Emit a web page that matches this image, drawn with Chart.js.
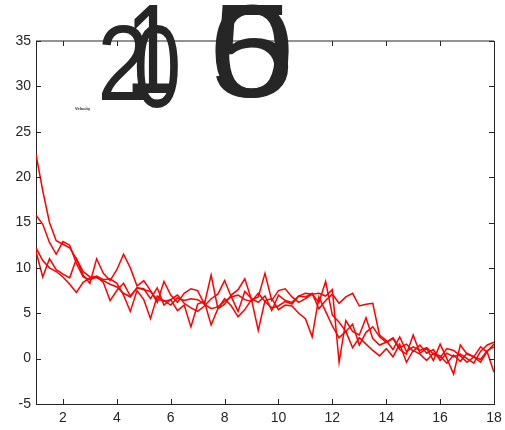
<!DOCTYPE html>
<html>
<head>
<meta charset="utf-8">
<script src="https://cdn.jsdelivr.net/npm/chart.js@4/dist/chart.umd.min.js"></script>
<style>
  body { margin: 0; background: #fff; }
</style>
</head>
<body>
<canvas id="velocityChart" width="505" height="430"></canvas>
<script>
// time axis (one sample every quarter unit)
const timeValues = [
  1, 1.25, 1.5, 1.75, 2, 2.25, 2.5, 2.75,
  3, 3.25, 3.5, 3.75, 4, 4.25, 4.5, 4.75,
  5, 5.25, 5.5, 5.75, 6, 6.25, 6.5, 6.75,
  7, 7.25, 7.5, 7.75, 8, 8.25, 8.5, 8.75,
  9, 9.25, 9.5, 9.75, 10, 10.25, 10.5, 10.75,
  11, 11.25, 11.5, 11.75, 12, 12.25, 12.5, 12.75,
  13, 13.25, 13.5, 13.75, 14, 14.25, 14.5, 14.75,
  15, 15.25, 15.5, 15.75, 16, 16.25, 16.5, 16.75,
  17, 17.25, 17.5, 17.75, 18
];

const runA = [
  22.5, 18.5, 15.0, 13.0, 12.6, 12.2, 11.0, 9.6,
  9.0, 8.9, 8.6, 8.2, 7.9, 7.2, 6.8, 7.8,
  7.6, 7.4, 6.5, 6.4, 5.9, 6.7, 6.4, 6.6,
  6.5, 6.0, 5.5, 5.7, 6.3, 6.8, 7.0, 6.5,
  6.3, 7.2, 6.3, 5.6, 5.8, 6.3, 6.0, 6.9,
  7.2, 7.1, 6.2, 8.5, 4.8, 4.0, 3.0, 3.8,
  1.5, 2.9, 3.5, 2.4, 1.8, 2.3, 1.2, 1.6,
  0.8, 1.5, 0.6, 1.0, -0.2, 0.6, 0.2, 0.5,
  0.0, -0.5, 0.8, 1.5, 1.8
];
const runB = [
  15.8, 14.8, 12.8, 11.5, 12.9, 12.5, 10.5, 9.0,
  8.7, 9.0, 8.4, 6.4, 7.5, 8.3, 6.9, 7.8,
  7.7, 6.6, 7.8, 5.9, 6.5, 7.0, 6.1, 5.6,
  5.2, 5.8, 6.6, 7.1, 8.6, 6.8, 5.2, 7.4,
  6.6, 6.2, 6.9, 5.3, 7.0, 6.4, 6.2, 6.9,
  6.8, 7.2, 5.5, 6.4, 7.1, 6.1, 6.8, 7.2,
  5.8, 6.0, 6.1, 2.6, 2.0, 1.0, 2.4, 0.8,
  1.3, 0.9, 1.2, 0.5, 0.1, 1.1, 0.9, 0.3,
  -0.4, 0.2, -0.1, 0.9, 1.3
];
const runC = [
  12.2, 10.8, 10.0, 9.6, 9.0, 8.2, 7.3, 8.4,
  8.9, 9.1, 8.7, 8.8, 8.3, 7.0, 5.2, 7.5,
  6.5, 4.4, 6.9, 6.3, 6.5, 5.3, 5.9, 3.5,
  6.0, 6.3, 3.7, 5.5, 6.6, 5.8, 4.6, 5.4,
  6.5, 3.1, 6.4, 6.6, 5.4, 5.9, 5.8, 5.0,
  4.4, 2.4, 6.8, 5.2, 3.6, 2.3, 3.0, 1.2,
  2.3, 1.6, 0.9, 0.3, 1.1, 0.2, 1.6, -0.4,
  0.9, 0.5, -0.2, 0.6, 0.3, -0.5, 0.4, -0.3,
  0.6, 0.2, -0.4, 0.8, 1.6
];
const runD = [
  11.8, 9.0, 11.0, 9.8, 9.3, 8.9, 11.0, 9.2,
  8.3, 11.0, 9.4, 8.6, 9.8, 11.5, 10.0, 8.0,
  8.6, 7.5, 6.2, 8.5, 7.0, 6.2, 7.2, 7.7,
  7.5, 6.0, 9.2, 5.5, 6.0, 7.0, 7.6, 8.8,
  6.5, 6.8, 9.4, 6.4, 7.5, 7.7, 6.8, 6.2,
  6.6, 7.1, 7.2, 6.9, 7.6, -0.4, 4.2, 3.0,
  2.6, 4.5, 2.2, 1.5, 1.8, 2.2, 1.0, 0.5,
  2.6, 0.6, 1.1, -0.2, 1.6, 0.0, -1.7, 1.5,
  0.5, 0.2, 1.3, 0.7, -1.5
];

const xTicks = [2, 4, 6, 8, 10, 12, 14, 16, 18];
const yTicks = [-5, 0, 5, 10, 15, 20, 25, 30, 35];

// big overlapping labels drawn over the top of the plot
const bigGlyphs = [
  { ch: '2', x: 102, y: 25, w: 43, h: 75 },
  { ch: '0', x: 136, y: 25, w: 42, h: 83 },
  { ch: '1', x: 132, y: 5, w: 41, h: 88 },
  { ch: '0', x: 214, y: 5, w: 75, h: 93 },
  { ch: '5', x: 216, y: 5, w: 73, h: 93 }
];

const ink = '#262626';

const boxPlugin = {
  id: 'box',
  afterDraw(chart) {
    const { ctx, chartArea: a, scales } = chart;
    ctx.save();
    ctx.strokeStyle = ink;
    ctx.lineWidth = 1;
    // top and right edges
    ctx.beginPath();
    ctx.moveTo(a.left, a.top);
    ctx.lineTo(a.right, a.top);
    ctx.stroke();
    ctx.beginPath();
    ctx.moveTo(a.right + 0.5, a.top);
    ctx.lineTo(a.right + 0.5, a.bottom);
    ctx.stroke();
    // inward ticks
    ctx.beginPath();
    xTicks.forEach(v => {
      const px = Math.round(scales.x.getPixelForValue(v)) + 0.5;
      ctx.moveTo(px, a.bottom); ctx.lineTo(px, a.bottom - 5);
      ctx.moveTo(px, a.top); ctx.lineTo(px, a.top + 5);
    });
    yTicks.forEach(v => {
      const py = Math.round(scales.y.getPixelForValue(v)) + 0.5;
      ctx.moveTo(a.left, py); ctx.lineTo(a.left + 5, py);
      ctx.moveTo(a.right, py); ctx.lineTo(a.right - 5, py);
    });
    ctx.stroke();

    // oversized labels
    ctx.fillStyle = ink;
    ctx.textAlign = 'left';
    ctx.textBaseline = 'alphabetic';
    ctx.font = '100px "Liberation Sans", Arial, sans-serif';
    bigGlyphs.forEach(g => {
      const m = ctx.measureText(g.ch);
      const w = m.actualBoundingBoxLeft + m.actualBoundingBoxRight;
      const h = m.actualBoundingBoxAscent + m.actualBoundingBoxDescent;
      ctx.save();
      ctx.translate(g.x, g.y);
      ctx.scale(g.w / w, g.h / h);
      ctx.fillText(g.ch, m.actualBoundingBoxLeft, m.actualBoundingBoxAscent);
      ctx.restore();
    });

    ctx.font = 'bold 4px "Liberation Sans", Arial, sans-serif';
    ctx.fillText('Velocity', 75, 110);
    ctx.restore();
  }
};

const makeRun = data => ({
  data: data,
  borderColor: '#ff0000',
  borderWidth: 1.5,
  pointRadius: 0,
  tension: 0,
  fill: false
});

new Chart(document.getElementById('velocityChart'), {
  type: 'line',
  data: {
    labels: timeValues,
    datasets: [makeRun(runA), makeRun(runB), makeRun(runC), makeRun(runD)]
  },
  options: {
    responsive: false,
    animation: false,
    layout: { padding: { top: 41, right: 11, left: 0, bottom: 0 } },
    plugins: {
      legend: { display: false },
      tooltip: { enabled: false }
    },
    scales: {
      x: {
        type: 'linear',
        min: 1,
        max: 18,
        afterBuildTicks: s => { s.ticks = xTicks.map(v => ({ value: v })); },
        afterFit: s => { s.height = 26; s.paddingLeft = 0; s.paddingRight = 0; },
        grid: { display: false, drawTicks: false },
        border: { display: true, color: ink, width: 1 },
        ticks: {
          color: ink,
          padding: 6,
          maxRotation: 0,
          font: { family: '"Liberation Sans", Arial, sans-serif', size: 14 }
        }
      },
      y: {
        min: -5,
        max: 35,
        afterBuildTicks: s => { s.ticks = yTicks.map(v => ({ value: v })); },
        afterFit: s => { s.width = 36; s.paddingTop = 0; s.paddingBottom = 0; },
        grid: { display: false, drawTicks: false },
        border: { display: true, color: ink, width: 1 },
        ticks: {
          color: ink,
          padding: 5,
          font: { family: '"Liberation Sans", Arial, sans-serif', size: 14 }
        }
      }
    }
  },
  plugins: [boxPlugin]
});
</script>
</body>
</html>
